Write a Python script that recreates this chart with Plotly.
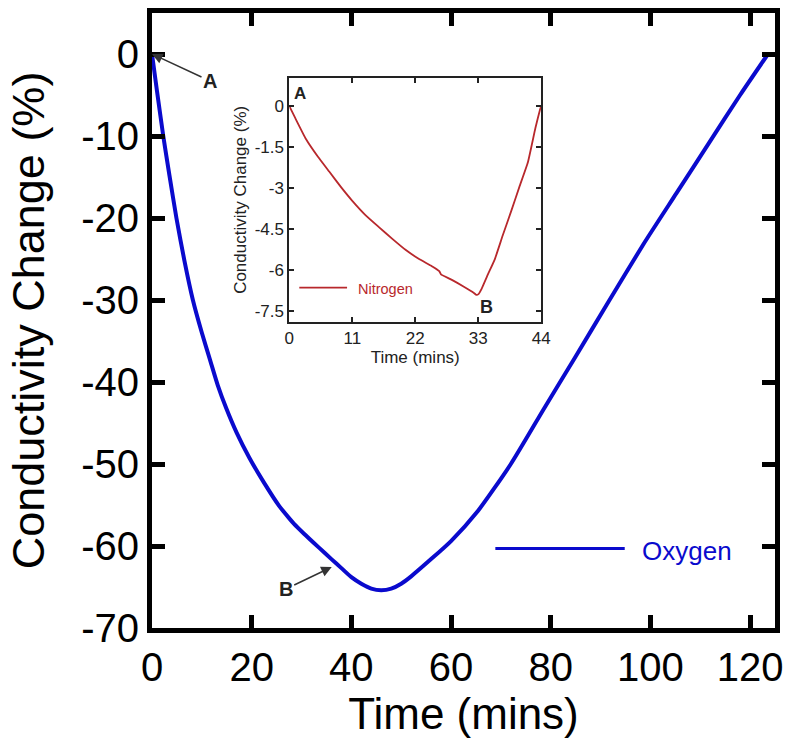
import plotly.graph_objects as go

# ---- data ----
oxy_time = [0, 1, 2.26, 3.5, 4.9, 6.5, 8.2, 10, 11.6, 13.2, 14.9, 17, 19.5, 22.5, 25.5, 27.5,
            28.5, 30.5, 33.5, 36, 38, 40, 42, 44, 46, 48, 50, 52, 56, 60, 65.3, 72, 78.7,
            84.7, 91.8, 98.6, 105.2, 111.8, 118, 123.6]
oxy_change = [0, -4.5, -10, -14.8, -20, -25.2, -30, -34, -37.2, -40.4, -43.2, -46.2, -49.2,
              -52.3, -55.1, -56.6, -57.3, -58.5, -60.2, -61.6, -62.7, -63.8, -64.6, -65.2,
              -65.4, -65.2, -64.6, -63.7, -61.6, -59.4, -55.8, -50, -43.2, -37.2, -30, -23.2,
              -17, -10.8, -5, 0]

nit_time = [0, 1, 2.9, 5, 7, 9, 11, 13.3, 15.65, 18, 20.3, 22.6, 24.9, 26.2, 26.5, 28.4, 30.5,
            32.2, 32.7, 33.1, 33.6, 34.7, 35.9, 37.3, 38.8, 40.2, 41.7, 43, 43.8, 44]
nit_change = [0, -0.42, -1.2, -1.85, -2.4, -2.95, -3.46, -3.98, -4.42, -4.85, -5.25, -5.58,
              -5.85, -6.03, -6.15, -6.35, -6.6, -6.82, -6.9, -6.86, -6.68, -6.15, -5.6, -4.72,
              -3.82, -2.95, -2.04, -0.8, -0.13, 0.0]

main_xticks = [0, 20, 40, 60, 80, 100, 120]
main_yticks = [0, -10, -20, -30, -40, -50, -60, -70]
inset_xticks = [0, 11, 22, 33, 44]
inset_yticks = [0, -1.5, -3, -4.5, -6, -7.5]

FONT = "Liberation Sans, Arial, sans-serif"
BLUE = "#0a0acd"
RED = "#b8282c"


def lab(vals):
    return [f"{v:g}" for v in vals]


fig = go.Figure()
fig.add_trace(go.Scatter(x=oxy_time, y=oxy_change, mode="lines",
                         line=dict(color=BLUE, width=4, shape="spline", smoothing=0.6),
                         showlegend=False, xaxis="x", yaxis="y"))
fig.add_trace(go.Scatter(x=nit_time, y=nit_change, mode="lines",
                         line=dict(color=RED, width=1.8, shape="spline", smoothing=0.4),
                         showlegend=False, xaxis="x2", yaxis="y2"))

W, H = 792, 738
L, R, T, B = 152, 14, 8, 103
pw, ph = W - L - R, H - T - B


def px2paper(x, y):
    return (x - L) / pw, (H - B - y) / ph


ix0, iy0 = px2paper(290, 323)
ix1, iy1 = px2paper(543, 74)

fig.update_layout(
    width=W, height=H, margin=dict(l=L, r=R, t=T, b=B),
    paper_bgcolor="white", plot_bgcolor="white",
    font=dict(family=FONT, color="black"),
    xaxis=dict(domain=[0, 1], range=[0, 125], tickvals=main_xticks, ticktext=lab(main_xticks),
               ticks="inside", ticklen=13, tickwidth=5, tickcolor="black", showline=True,
               linewidth=5, linecolor="black", mirror="ticks", showgrid=False, zeroline=False,
               tickfont=dict(size=40), title=dict(text="Time (mins)", font=dict(size=44), standoff=10)),
    yaxis=dict(domain=[0, 1], range=[-70, 5], tickvals=main_yticks, ticktext=lab(main_yticks),
               ticks="inside", ticklen=13, tickwidth=5, tickcolor="black", showline=True,
               linewidth=5, linecolor="black", mirror="ticks", showgrid=False, zeroline=False,
               tickfont=dict(size=40),
               title=dict(text="Conductivity Change (%)", font=dict(size=45), standoff=24)),
    xaxis2=dict(domain=[ix0, ix1], anchor="y2", range=[0, 44], tickvals=inset_xticks,
                ticktext=lab(inset_xticks),
                ticks="inside", ticklen=5, tickwidth=1.5, tickcolor="#222", showline=True,
                linewidth=2, linecolor="#222", mirror="ticks", showgrid=False, zeroline=False,
                tickfont=dict(size=17, color="#222"),
                title=dict(text="Time (mins)", font=dict(size=17, color="#222"), standoff=0)),
    yaxis2=dict(domain=[iy0, iy1], anchor="x2", range=[-7.89, 1.04], tickvals=inset_yticks,
                ticktext=lab(inset_yticks),
                ticks="inside", ticklen=5, tickwidth=1.5, tickcolor="#222", showline=True,
                linewidth=2, linecolor="#222", mirror="ticks", showgrid=False, zeroline=False,
                tickfont=dict(size=17, color="#222"),
                title=dict(text="Conductivity Change (%)", font=dict(size=17, color="#222"), standoff=4)),
)

# legend samples (layout decorations in paper space)
lx0, ly = px2paper(497, 554)
lx1, _ = px2paper(627, 554)
fig.add_shape(type="line", xref="paper", yref="paper", x0=lx0, x1=lx1, y0=ly, y1=ly,
              line=dict(color=BLUE, width=3))
tx, ty = px2paper(642, 556)
fig.add_annotation(xref="paper", yref="paper", x=tx, y=ty, text="Oxygen", showarrow=False,
                   xanchor="left", yanchor="middle", font=dict(size=26, color=BLUE))

nx0, ny = px2paper(300, 288)
nx1, _ = px2paper(348, 288)
fig.add_shape(type="line", xref="paper", yref="paper", x0=nx0, x1=nx1, y0=ny, y1=ny,
              line=dict(color=RED, width=1.8))
ntx, nty = px2paper(357, 289)
fig.add_annotation(xref="paper", yref="paper", x=ntx, y=nty, text="Nitrogen", showarrow=False,
                   xanchor="left", yanchor="middle", font=dict(size=14.5, color=RED))

# point labels with arrows on the main plot
fig.add_annotation(x=0, y=0, xref="x", yref="y", text="<b>A</b>", showarrow=True, ax=58, ay=27,
                   arrowhead=2, arrowsize=1.4, arrowwidth=1.5, arrowcolor="#333",
                   font=dict(size=20, color="#222"))
fig.add_annotation(x=36.06, y=-62.57, xref="x", yref="y", text="<b>B</b>", showarrow=True,
                   ax=-46, ay=22, arrowhead=2, arrowsize=1.4, arrowwidth=1.5, arrowcolor="#333",
                   font=dict(size=20, color="#222"))

# inset point labels
fig.add_annotation(x=0, y=0, xref="x2", yref="y2", text="<b>A</b>", showarrow=False,
                   xanchor="left", yanchor="bottom", xshift=3, yshift=1,
                   font=dict(size=17, color="#222"))
fig.add_annotation(x=34.5, y=-7.35, xref="x2", yref="y2", text="<b>B</b>", showarrow=False,
                   xanchor="center", yanchor="middle",
                   font=dict(size=18, color="#222"))

fig.write_html("out.html")
